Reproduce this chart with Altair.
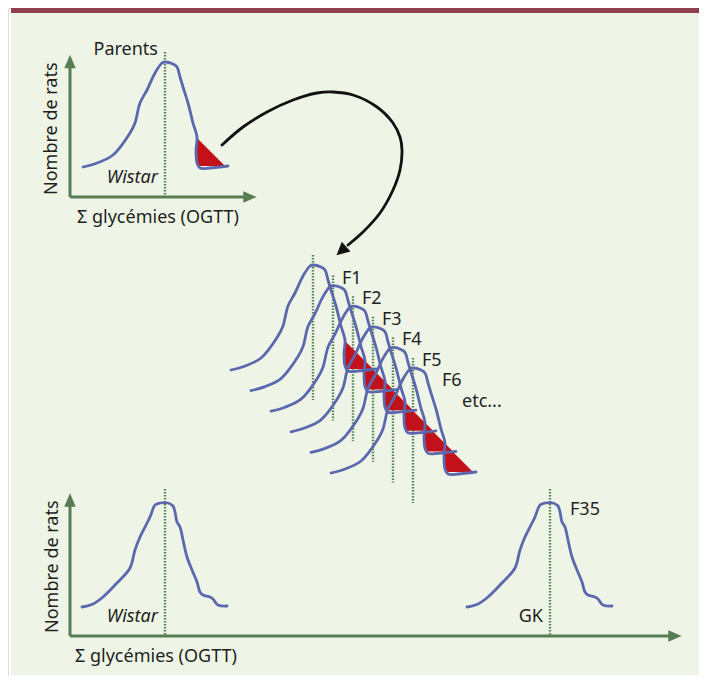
import altair as alt
import pandas as pd

# ---------------- data (diagram units = pixels of the figure) ----------------
# panel background and top band
band_name = ["fond", "bandeau"]
band_x = [11, 11]
band_x2 = [699, 699]
band_y = [13, 8]
band_y2 = [675, 13]

# distribution templates, offsets from the mean line (dx) and from the peak (dy)
# "sel": distribution with selected high tail (red)
sel_dx = [-82, -68, -52, -35, -30, -25, -18, -10, -3, 0, 8, 12, 15, 18, 23, 28, 32, 31, 32, 35, 45, 63]
sel_dy = [105, 101, 93, 71, 61, 41, 28, 11, 1, 0, 2, 5, 15, 25, 41, 61, 75, 88, 101, 106, 106, 104]
# "nat": unselected distribution
nat_dx = [-83, -72, -62, -48, -35, -30, -25, -15, -10, -5, 3, 8, 10, 12, 15, 18, 22, 27, 32, 35, 38, 45, 48, 53, 62]
nat_dy = [104, 101, 94, 80, 65, 47, 34, 14, 2, 0, 0, 3, 9, 19, 24, 37, 54, 67, 79, 89, 92, 94, 96, 102, 103]
# selected tail (red)
red_dx = [32, 59]
red_dy = [76, 103]
red_dy2 = [104, 104]
# mean line extents
mean_sel = [-10, 135]
mean_nat = [-14, 133]

# distributions: mean line x, peak y, template
inst_name = ["Parents", "G1", "G2", "G3", "G4", "G5", "G6", "Wistar", "GK"]
inst_x = [165, 313, 333, 353, 373, 393, 413, 165, 550]
inst_y = [62, 265, 285.6, 306.2, 326.8, 347.4, 368, 503, 503]
inst_kind = ["sel", "sel", "sel", "sel", "sel", "sel", "sel", "nat", "nat"]

# axes
axis_x = [70, 70, 70, 70]
axis_x2 = [70, 250, 70, 675]
axis_y = [197, 197, 636, 636]
axis_y2 = [62, 197, 500, 636]
head_x = [70, 250, 70, 675]
head_y = [61.5, 197, 500, 636]
head_angle = [0, 90, 0, 90]

# black selection arrow
arc_x = [222, 243, 267, 293, 317, 333, 353, 377, 393, 400, 402, 400, 393, 380, 363, 348]
arc_y = [145, 127, 112, 100, 93, 92, 95, 107, 123, 137, 150, 170, 190, 213, 232, 245]
tip_x = [341.3]
tip_y = [250.9]
tip_angle = [228]

# texts
lab_plain = ["F1", "F2", "F3", "F4", "F5", "F6", "etc...", "F35", "Σ glycémies (OGTT)", "Σ glycémies (OGTT)"]
lab_plain_x = [342, 362, 382, 402, 422, 442, 462, 570, 77, 75]
lab_plain_y = [283.5, 304, 324.5, 345, 365.5, 386, 406.5, 515, 223, 662]
lab_right = ["Parents", "GK"]
lab_right_x = [158, 543]
lab_right_y = [55, 622]
lab_ital = ["Wistar", "Wistar"]
lab_ital_x = [158, 158]
lab_ital_y = [183, 622]
lab_rot = ["Nombre de rats", "Nombre de rats"]
lab_rot_x = [57, 58]
lab_rot_y = [195, 633]

# ---------------- tables ----------------
templates = {"sel": (sel_dx, sel_dy), "nat": (nat_dx, nat_dy)}
rows = []
for n, bx, by, k in zip(inst_name, inst_x, inst_y, inst_kind):
    dxs, dys = templates[k]
    for i, (dx, dy) in enumerate(zip(dxs, dys)):
        rows.append({"inst": n, "i": i, "x": bx + dx, "y": by + dy})
curves = pd.DataFrame(rows)

rrows = []
for n, bx, by, k in zip(inst_name, inst_x, inst_y, inst_kind):
    if k != "sel":
        continue
    for dx, dy, dy2 in zip(red_dx, red_dy, red_dy2):
        rrows.append({"inst": n, "x": bx + dx, "y": by + dy, "y2": by + dy2})
reds = pd.DataFrame(rrows)

means = pd.DataFrame({
    "x": inst_x,
    "y": [by + (mean_sel if k == "sel" else mean_nat)[0] for by, k in zip(inst_y, inst_kind)],
    "y2": [by + (mean_sel if k == "sel" else mean_nat)[1] for by, k in zip(inst_y, inst_kind)],
})

band = pd.DataFrame({"name": band_name, "x": band_x, "x2": band_x2, "y": band_y, "y2": band_y2})
axes = pd.DataFrame({"x": axis_x, "x2": axis_x2, "y": axis_y, "y2": axis_y2})
heads = pd.DataFrame({"x": head_x, "y": head_y, "a": head_angle})
arc = pd.DataFrame({"x": arc_x, "y": arc_y, "i": list(range(len(arc_x)))})
tip = pd.DataFrame({"x": tip_x, "y": tip_y, "a": tip_angle})
t_plain = pd.DataFrame({"t": lab_plain, "x": lab_plain_x, "y": lab_plain_y})
t_right = pd.DataFrame({"t": lab_right, "x": lab_right_x, "y": lab_right_y})
t_ital = pd.DataFrame({"t": lab_ital, "x": lab_ital_x, "y": lab_ital_y})
t_rot = pd.DataFrame({"t": lab_rot, "x": lab_rot_x, "y": lab_rot_y})

# ---------------- styling ----------------
XS = alt.Scale(domain=[8, 699], nice=False, zero=False)
YS = alt.Scale(domain=[8, 676], reverse=True, nice=False, zero=False)
X = alt.X("x:Q", scale=XS, axis=None)
Y = alt.Y("y:Q", scale=YS, axis=None)

BLUE = "#5b68ad"
RED = "#c3111b"
GREEN = "#567d53"
DOT = "#4f8350"
INK = "#231f20"
FONT = "Noto Sans"
FS = 18

bg = alt.Chart(band).mark_rect().encode(
    x=X, x2="x2:Q", y=Y, y2="y2:Q",
    color=alt.Color("name:N", scale=alt.Scale(domain=band_name, range=["#eef5e7", "#8f3f4f"]), legend=None),
)

mean_lines = alt.Chart(means).mark_rule(color=DOT, strokeWidth=2.4, strokeDash=[1.5, 1.5]).encode(
    x=X, y=Y, y2="y2:Q"
)

red_areas = alt.Chart(reds).mark_area(color=RED, interpolate="linear").encode(
    x=X, y=Y, y2="y2:Q", detail="inst:N"
)

lines = alt.Chart(curves).mark_line(
    color=BLUE, strokeWidth=2.8, interpolate="catmull-rom", strokeJoin="round", strokeCap="round"
).encode(x=X, y=Y, detail="inst:N", order="i:Q")

axis_rules = alt.Chart(axes).mark_rule(color=GREEN, strokeWidth=3).encode(
    x=X, x2="x2:Q", y=Y, y2="y2:Q"
)

axis_heads = alt.Chart(heads).mark_point(
    shape="M0,-1L-0.85,1L0.85,1Z", filled=True, color=GREEN, opacity=1, size=182
).encode(x=X, y=Y, angle=alt.Angle("a:Q", scale=None))

arc_line = alt.Chart(arc).mark_line(
    color="#111111", strokeWidth=2.8, interpolate="catmull-rom", strokeCap="round"
).encode(x=X, y=Y, order="i:Q")

arc_tip = alt.Chart(tip).mark_point(
    shape="M0,-1L-1,1L1,1Z", filled=True, color="#111111", opacity=1, size=169
).encode(x=X, y=Y, angle=alt.Angle("a:Q", scale=None))

txt_plain = alt.Chart(t_plain).mark_text(
    font=FONT, fontSize=FS, color=INK, align="left", baseline="alphabetic"
).encode(x=X, y=Y, text="t:N")

txt_right = alt.Chart(t_right).mark_text(
    font=FONT, fontSize=FS, color=INK, align="right", baseline="alphabetic"
).encode(x=X, y=Y, text="t:N")

txt_ital = alt.Chart(t_ital).mark_text(
    font=FONT, fontSize=FS, fontStyle="italic", color=INK, align="right", baseline="alphabetic"
).encode(x=X, y=Y, text="t:N")

txt_rot = alt.Chart(t_rot).mark_text(
    font=FONT, fontSize=FS, color=INK, align="left", baseline="alphabetic", angle=270
).encode(x=X, y=Y, text="t:N")

chart = alt.layer(
    bg, mean_lines, red_areas, lines, axis_rules, axis_heads, arc_line, arc_tip,
    txt_plain, txt_right, txt_ital, txt_rot
).properties(
    width=691, height=668, padding=0, autosize=alt.AutoSizeParams(type="none")
).configure_view(stroke=None).configure(background="white")

chart.save("out.html", embed_options={"renderer": "svg", "actions": False})
